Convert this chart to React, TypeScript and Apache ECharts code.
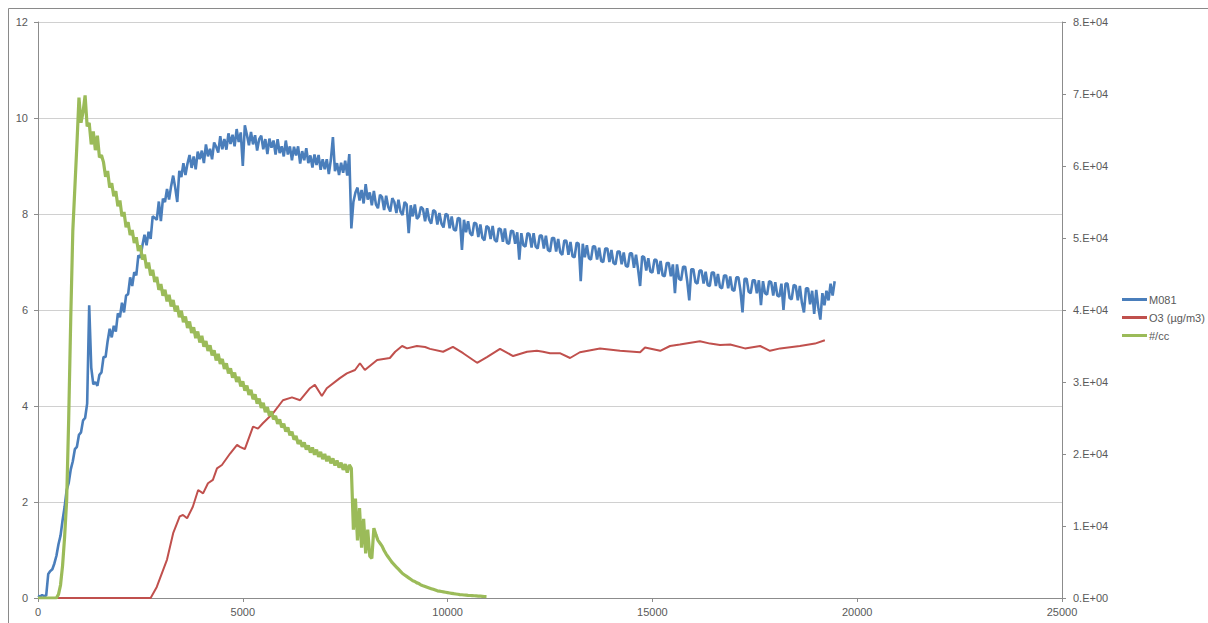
import React, { useEffect, useRef } from "react";
import * as echarts from "echarts";

// sample spacing (x units) of the two dense series
const SAMPLE_STEP = 50;

// M081, sampled every 50 from x = 0 (left axis); each row spans 500
const m081: number[] = [
  0.05, 0.03, 0.06, 0.04, 0.05, 0.5, 0.56, 0.6, 0.72, 0.88, // 0
  1.12, 1.3, 1.62, 1.9, 2.25, 2.4, 2.68, 2.85, 3.1, 3.15, // 500
  3.4, 3.45, 3.7, 3.75, 4.05, 6.1, 4.8, 4.45, 4.5, 4.42, // 1000
  4.65, 4.7, 5.02, 5.02, 5.35, 5.61, 5.43, 5.67, 5.55, 5.93, // 1500
  5.85, 6.15, 5.95, 6.3, 6.33, 6.68, 6.5, 6.79, 6.72, 7.14, // 2000
  7.09, 7.35, 7.57, 7.35, 7.63, 7.48, 7.95, 7.92, 7.88, 8.26, // 2500
  7.85, 8.32, 8.25, 8.52, 8.3, 8.58, 8.8, 8.55, 8.25, 8.9, // 3000
  8.77, 9.06, 8.81, 9.05, 9.23, 8.96, 9.2, 8.93, 9.3, 9.14, // 3500
  9.32, 9.06, 9.45, 9.2, 9.36, 9.14, 9.49, 9.4, 9.28, 9.62, // 4000
  9.35, 9.56, 9.34, 9.68, 9.46, 9.65, 9.41, 9.77, 9.5, 9.7, // 4500
  9.0, 9.85, 9.65, 9.43, 9.71, 9.45, 9.64, 9.32, 9.56, 9.63, // 5000
  9.35, 9.56, 9.25, 9.57, 9.38, 9.53, 9.24, 9.56, 9.27, 9.41, // 5500
  9.2, 9.53, 9.24, 9.41, 9.12, 9.4, 9.22, 9.41, 9.05, 9.31, // 6000
  9.12, 9.37, 9.06, 9.22, 8.97, 9.24, 9.02, 9.23, 8.92, 9.14, // 6500
  8.93, 9.14, 8.83, 9.13, 9.6, 8.89, 9.06, 8.81, 9.07, 8.86, // 7000
  9.11, 8.8, 9.25, 7.7, 8.25, 8.45, 8.55, 8.28, 8.5, 8.22, // 7500
  8.62, 8.3, 8.45, 8.18, 8.48, 8.2, 8.12, 8.4, 8.35, 8.08, // 8000
  8.38, 8.15, 8.05, 8.33, 8.25, 8.02, 8.3, 8.05, 7.98, 8.25, // 8500
  8.2, 7.6, 8.18, 7.95, 8.2, 7.9, 7.95, 8.15, 8.1, 7.85, // 9000
  8.12, 7.88, 7.8, 8.08, 8.05, 7.78, 8.02, 7.8, 7.72, 8.0, // 9500
  7.98, 7.7, 7.95, 7.68, 7.65, 7.92, 7.9, 7.25, 7.88, 7.62, // 10000
  7.85, 7.6, 7.55, 7.82, 7.8, 7.52, 7.78, 7.5, 7.45, 7.75, // 10500
  7.72, 7.48, 7.75, 7.46, 7.42, 7.7, 7.68, 7.42, 7.7, 7.4, // 11000
  7.38, 7.65, 7.64, 7.38, 7.62, 7.05, 7.6, 7.35, 7.32, 7.6, // 11500
  7.58, 7.3, 7.6, 7.32, 7.28, 7.55, 7.55, 7.28, 7.55, 7.25, // 12000
  7.22, 7.5, 7.5, 7.22, 7.48, 7.2, 7.15, 7.45, 7.44, 7.15, // 12500
  7.42, 7.12, 7.1, 7.4, 7.38, 6.6, 7.38, 7.1, 7.35, 7.08, // 13000
  7.05, 7.33, 7.32, 7.05, 7.3, 7.02, 7.0, 7.28, 7.28, 7.0, // 13500
  7.25, 6.98, 6.95, 7.22, 7.22, 6.95, 7.2, 6.92, 6.9, 7.18, // 14000
  7.18, 6.88, 7.15, 6.85, 6.5, 7.12, 7.1, 6.82, 7.08, 6.8, // 14500
  6.78, 7.05, 7.04, 6.75, 7.02, 6.72, 6.7, 6.98, 6.98, 6.7, // 15000
  6.95, 6.35, 6.95, 6.65, 6.62, 6.9, 6.9, 6.6, 6.2, 6.85, // 15500
  6.85, 6.58, 6.55, 6.82, 6.82, 6.55, 6.8, 6.52, 6.5, 6.78, // 16000
  6.78, 6.5, 6.75, 6.48, 6.45, 6.72, 6.72, 6.45, 6.7, 6.42, // 16500
  6.4, 6.68, 6.68, 6.4, 5.95, 6.65, 6.65, 6.38, 6.35, 6.62, // 17000
  6.62, 6.35, 6.62, 6.1, 6.6, 6.35, 6.32, 6.6, 6.58, 6.3, // 17500
  6.58, 6.3, 6.28, 6.55, 6.0, 6.55, 6.55, 6.25, 6.22, 6.52, // 18000
  6.5, 6.2, 6.5, 6.15, 5.95, 6.45, 6.45, 6.12, 6.4, 5.92, // 18500
  6.42, 6.05, 5.8, 6.35, 6.1, 6.4, 6.2, 6.55, 6.3, 6.6, // 19000
];

// #/cc in units of 10^4, sampled every 50 from x = 0 (right axis); each row spans 500
const ccE4: number[] = [
  0, 0, 0, 0, 0, 0, 0, 0, 0, 0, // 0
  0.05, 0.18, 0.45, 0.85, 1.36, 2.5, 3.9, 5.1, 5.7, 6.3, // 500
  6.95, 6.6, 6.75, 6.98, 6.55, 6.6, 6.3, 6.48, 6.22, 6.42, // 1000
  6.12, 6.15, 6.05, 5.85, 5.93, 5.7, 5.76, 5.58, 5.65, 5.44, // 1500
  5.52, 5.3, 5.36, 5.15, 5.22, 5.04, 5.11, 4.93, 5.01, 4.82, // 2000
  4.9, 4.7, 4.77, 4.58, 4.66, 4.48, 4.56, 4.39, 4.46, 4.28, // 2500
  4.36, 4.2, 4.28, 4.12, 4.21, 4.05, 4.14, 3.98, 4.06, 3.9, // 3000
  3.99, 3.83, 3.91, 3.75, 3.84, 3.68, 3.76, 3.61, 3.7, 3.55, // 3500
  3.64, 3.49, 3.57, 3.43, 3.51, 3.37, 3.44, 3.3, 3.39, 3.25, // 4000
  3.32, 3.18, 3.26, 3.12, 3.19, 3.06, 3.13, 3.0, 3.07, 2.94, // 4500
  3.01, 2.88, 2.95, 2.82, 2.89, 2.76, 2.83, 2.7, 2.77, 2.64, // 5000
  2.71, 2.58, 2.65, 2.53, 2.59, 2.48, 2.53, 2.42, 2.48, 2.37, // 5500
  2.42, 2.31, 2.37, 2.26, 2.31, 2.2, 2.25, 2.14, 2.19, 2.1, // 6000
  2.16, 2.06, 2.12, 2.02, 2.09, 1.99, 2.06, 1.96, 2.03, 1.93, // 6500
  2.0, 1.9, 1.97, 1.87, 1.94, 1.84, 1.91, 1.81, 1.88, 1.78, // 7000
  1.86, 1.74, 1.85, 1.8, 0.95, 1.38, 0.8, 1.25, 0.7, 1.1, // 7500
  0.62, 0.95, 0.58, 0.55, 0.97, 0.88, 0.8, 0.76, 0.72, 0.66, // 8000
  0.61, 0.57, 0.53, 0.49, 0.46, 0.43, 0.4, 0.37, 0.34, 0.32, // 8500
  0.3, 0.28, 0.26, 0.24, 0.23, 0.21, 0.2, 0.18, 0.17, 0.16, // 9000
  0.15, 0.14, 0.13, 0.12, 0.11, 0.1, 0.095, 0.09, 0.085, 0.08, // 9500
  0.075, 0.07, 0.065, 0.06, 0.056, 0.052, 0.048, 0.045, 0.042, 0.04, // 10000
  0.037, 0.035, 0.033, 0.031, 0.029, 0.027, 0.025, 0.023, 0.021, 0.02, // 10500
];

// O3 (µg/m3): [x, value] (left axis)
const o3: [number, number][] = [
  [0, 0], [2750, 0], [2900, 0.23], [3150, 0.8], [3300, 1.35], [3460, 1.7],
  [3540, 1.73], [3640, 1.66], [3780, 1.9], [3910, 2.25], [4030, 2.18],
  [4150, 2.39], [4270, 2.46], [4370, 2.7], [4490, 2.77], [4690, 3.01],
  [4860, 3.19], [4930, 3.15], [5050, 3.1], [5250, 3.57], [5370, 3.53],
  [5490, 3.64], [5740, 3.85], [5980, 4.12], [6200, 4.18], [6400, 4.12],
  [6640, 4.37], [6760, 4.44], [6930, 4.21], [7050, 4.37], [7370, 4.58],
  [7540, 4.68], [7740, 4.75], [7860, 4.89], [7980, 4.75], [8280, 4.96],
  [8590, 5.0], [8720, 5.13], [8890, 5.25], [9010, 5.2], [9250, 5.25],
  [9450, 5.23], [9570, 5.19], [9890, 5.13], [10130, 5.23], [10380, 5.1],
  [10720, 4.9], [10960, 5.02], [11280, 5.19], [11600, 5.04], [11940, 5.13],
  [12180, 5.15], [12330, 5.13], [12500, 5.1], [12740, 5.1], [12990, 5.0],
  [13230, 5.12], [13720, 5.2], [14210, 5.15], [14700, 5.12], [14820, 5.22],
  [15190, 5.15], [15430, 5.25], [15670, 5.28], [16160, 5.35], [16410, 5.3],
  [16650, 5.27], [16900, 5.28], [17260, 5.2], [17630, 5.25], [17870, 5.15],
  [18120, 5.2], [18600, 5.25], [18970, 5.3], [19210, 5.37],
];

const seriesNames = ["M081", "O3 (\u00b5g/m3)", "#/cc"];
const seriesColors = ["#4a7ebb", "#c0504d", "#9bbb59"];

const FONT = "'Liberation Sans', Arial, sans-serif";
const TEXT = "#595959";
const AXIS = "#8c8c8c";

export default function App() {
  const ref = useRef<HTMLDivElement>(null);

  useEffect(() => {
    document.body.style.margin = "0";
    if (!ref.current) return;
    const chart = echarts.init(ref.current, null, { renderer: "svg" });

    const m081Data = m081.map((v, i) => [i * SAMPLE_STEP, v]);
    const ccData = ccE4.map((v, i) => [i * SAMPLE_STEP, v * 10000]);

    const labelStyle = { color: TEXT, fontSize: 11, fontFamily: FONT };

    chart.setOption({
      animation: false,
      backgroundColor: "#ffffff",
      textStyle: { fontFamily: FONT },
      grid: { left: 38, right: 146, top: 22, bottom: 25, containLabel: false },
      graphic: [
        {
          type: "rect",
          silent: true,
          shape: { x: 8.5, y: 8.5, width: 1240, height: 660 },
          style: { fill: "none", stroke: "#8a8a8a", lineWidth: 1 },
        },
      ],
      legend: {
        orient: "vertical",
        left: 1117,
        top: 289,
        itemWidth: 25,
        itemHeight: 3,
        itemGap: 7,
        icon: "rect",
        data: seriesNames,
        textStyle: { ...labelStyle, padding: [0, 0, 0, -3] },
      },
      xAxis: {
        type: "value",
        min: 0,
        max: 25000,
        interval: 5000,
        axisLine: { show: true, lineStyle: { color: AXIS } },
        axisTick: { show: true, length: 4, lineStyle: { color: AXIS } },
        axisLabel: { ...labelStyle, margin: 8, formatter: (v: number) => String(v) },
        splitLine: { show: false },
      },
      yAxis: [
        {
          type: "value",
          min: 0,
          max: 12,
          interval: 2,
          axisLine: { show: true, lineStyle: { color: AXIS } },
          axisTick: { show: true, length: 4, lineStyle: { color: AXIS } },
          axisLabel: { ...labelStyle, margin: 10 },
          splitLine: { show: true, lineStyle: { color: "#d0d0d0" } },
        },
        {
          type: "value",
          position: "right",
          min: 0,
          max: 80000,
          interval: 10000,
          axisLine: { show: true, lineStyle: { color: AXIS } },
          axisTick: { show: true, length: 4, lineStyle: { color: AXIS } },
          axisLabel: {
            ...labelStyle,
            margin: 11,
            formatter: (v: number) =>
              v === 0 ? "0.E+00" : `${Math.round(v / 10000)}.E+04`,
          },
          splitLine: { show: false },
        },
      ],
      series: [
        {
          name: seriesNames[0],
          type: "line",
          yAxisIndex: 0,
          data: m081Data,
          symbol: "none",
          color: seriesColors[0],
          lineStyle: { width: 2.6, color: seriesColors[0] },
        },
        {
          name: seriesNames[1],
          type: "line",
          yAxisIndex: 0,
          data: o3,
          symbol: "none",
          color: seriesColors[1],
          lineStyle: { width: 2, color: seriesColors[1] },
        },
        {
          name: seriesNames[2],
          type: "line",
          yAxisIndex: 1,
          data: ccData,
          symbol: "none",
          color: seriesColors[2],
          lineStyle: { width: 3.2, color: seriesColors[2] },
        },
      ],
    });

    return () => chart.dispose();
  }, []);

  return <div ref={ref} style={{ width: 1208, height: 623 }} />;
}
